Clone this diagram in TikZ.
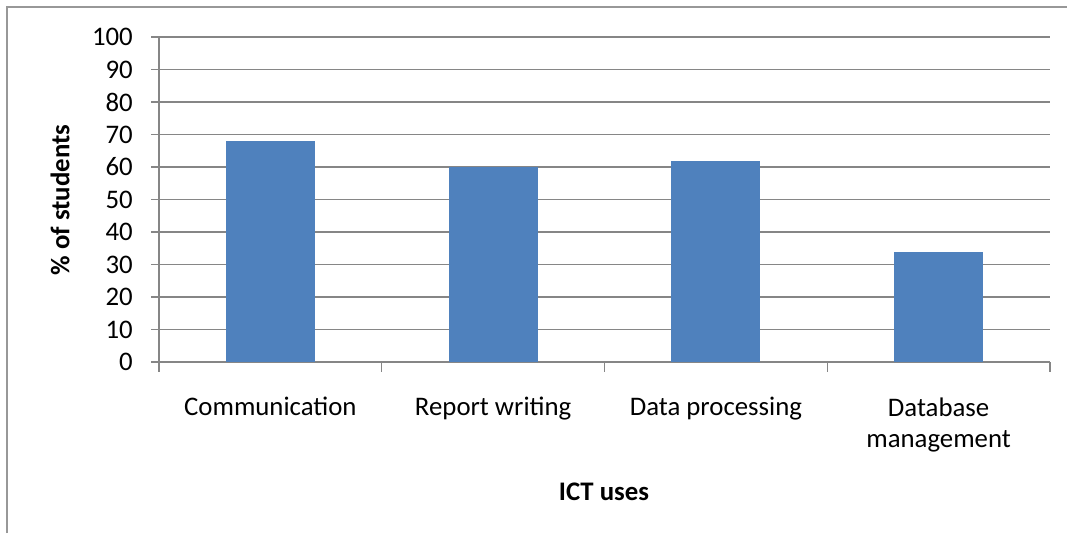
\documentclass[tikz,border=0pt]{standalone}
\usepackage{fontspec}
\setmainfont{Carlito}
\definecolor{barblue}{RGB}{79,129,189}
\definecolor{gridgray}{RGB}{134,134,134}
\tikzset{
  gridline/.style={draw=gridgray, line width=1.3pt},
  bar/.style={fill=barblue, draw=none},
  lbl/.style={font=\fontsize{26.8}{31}\selectfont, inner sep=0pt},
  axtitle/.style={lbl, font=\fontsize{26.8}{31}\selectfont\bfseries},
}
\begin{document}
\begin{tikzpicture}[x=1pt,y=-1pt]
    \useasboundingbox (0,0) rectangle (1067,533);
    \draw[gridgray!85, line width=2pt] (7,533) -- (7,7) -- (1067,7);
    % gridlines and values
    \foreach \v in {0,10,...,100}
        {
        \draw[gridline] (151,{362-3.25*\v}) -- (1050,{362-3.25*\v});
        \node[lbl, anchor=east] (val\v) at (133,{362-3.25*\v}) {\v};
        }
    \draw[gridline] (159,{362-325}) -- (159,372);
    \foreach \i in {1,...,4}
        \draw[gridline] ({159+222.75*\i},362) -- ++(0,10);
    % bars
    \foreach \h [count=\i] in {68,60,62,34}
        \fill[bar] ({159+222.75*(\i-0.5)-44.5},362) rectangle ++(89,{-3.25*\h});
    % categories
    \node[lbl, anchor=base] (comm) at ({159+222.75*0.5},415) {Communication};
    \node[lbl, anchor=base] (report) at ({159+222.75*1.5},415) {Report writing};
    \node[lbl, anchor=base] (data) at ({159+222.75*2.5},415) {Data processing};
    \node[lbl, anchor=base, align=center] (dbase) at ({159+222.75*3.5},447) {Database\\management};
    % axis titles
    \node[axtitle] (xtitle) at (604,492) {ICT uses};
    \node[axtitle, rotate=90] (ytitle) at (60,200) {\% of students};
\end{tikzpicture}
\end{document}
